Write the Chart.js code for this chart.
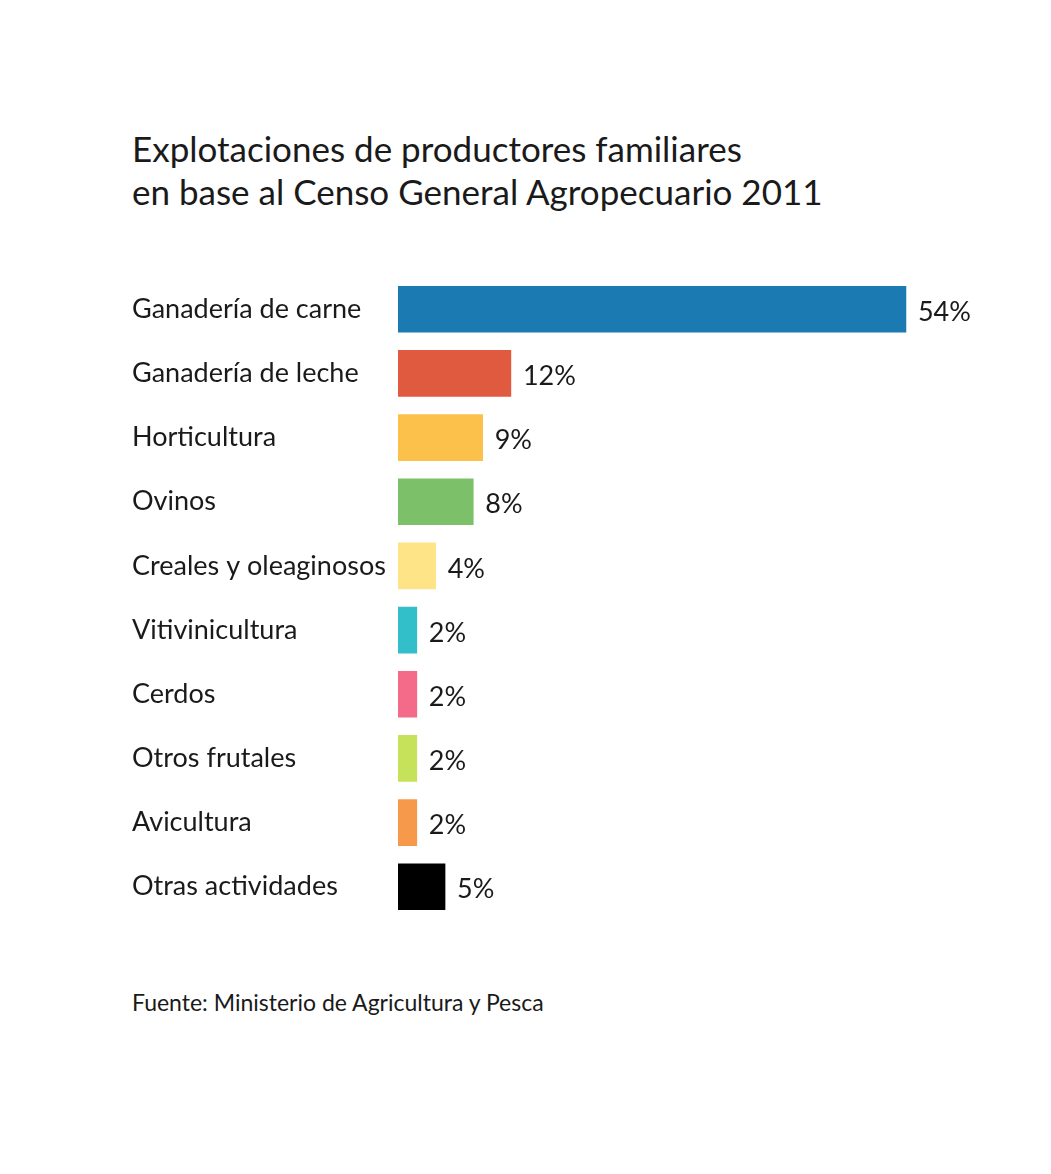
<!DOCTYPE html>
<html>
<head>
<meta charset="utf-8">
<script src="https://cdn.jsdelivr.net/npm/chart.js@4/dist/chart.umd.min.js"></script>
<style>
  body { margin: 0; background: #fff; width: 1051px; height: 1174px; position: relative; overflow: hidden; font-family: Lato, sans-serif; color: #1a1a1a; }
  #title { position: absolute; left: 132px; top: 127px; font-size: 35px; line-height: 43px; }
  #source { position: absolute; left: 132px; top: 988px; font-size: 23px; }
  #wrap { position: absolute; left: 132px; top: 261px; width: 868px; height: 674px; }
</style>
</head>
<body>
<div id="title">Explotaciones de productores familiares<br>en base al Censo General Agropecuario 2011</div>
<div id="wrap"><canvas id="chart"></canvas></div>
<div id="source">Fuente: Ministerio de Agricultura y Pesca</div>
<script>
const categories = [
  "Ganadería de carne",
  "Ganadería de leche",
  "Horticultura",
  "Ovinos",
  "Creales y oleaginosos",
  "Vitivinicultura",
  "Cerdos",
  "Otros frutales",
  "Avicultura",
  "Otras actividades",
];
const shares = [54, 12, 9, 8, 4, 2, 2, 2, 2, 5];
const barColors = [
  "#1a7ab1", "#e05a40", "#fbc14b", "#7cc06a", "#fee487",
  "#33bfc9", "#f46b8a", "#c5e25a", "#f7994a", "#000000",
];

const valueLabels = {
  id: "valueLabels",
  afterDatasetsDraw(chart) {
    const ctx = chart.ctx;
    const meta = chart.getDatasetMeta(0);
    ctx.save();
    ctx.font = "27px Lato";
    ctx.fillStyle = "#1a1a1a";
    ctx.textBaseline = "middle";
    meta.data.forEach((bar, i) => {
      ctx.fillText(shares[i] + "%", bar.x + 12, bar.y + 3);
    });
    ctx.restore();
  },
};

new Chart(document.getElementById("chart"), {
  type: "bar",
  data: {
    labels: categories,
    datasets: [
      {
        data: shares,
        backgroundColor: barColors,
        barThickness: 46,
      },
    ],
  },
  options: {
    indexAxis: "y",
    responsive: true,
    maintainAspectRatio: false,
    animation: false,
    layout: { padding: 0 },
    plugins: {
      legend: { display: false },
      tooltip: { enabled: false },
    },
    scales: {
      x: {
        display: false,
        min: 0,
        max: 64,
      },
      y: {
        grid: { display: false },
        border: { display: false },
        afterFit: (scale) => {
          scale.width = 266;
        },
        ticks: {
          crossAlign: "far",
          color: "#1a1a1a",
          font: { family: "Lato", size: 27 },
          padding: 0,
        },
      },
    },
  },
  plugins: [valueLabels],
});
</script>
</body>
</html>
